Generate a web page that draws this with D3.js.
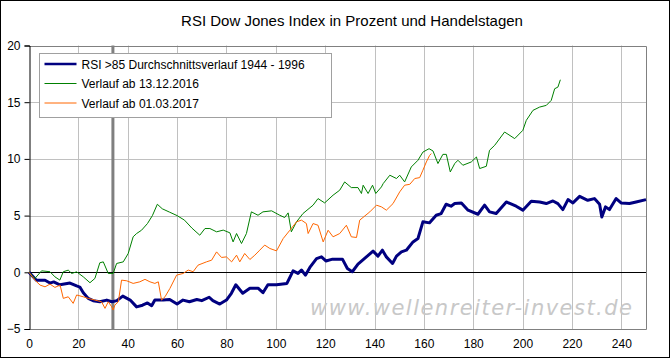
<!DOCTYPE html>
<html>
<head>
<meta charset="utf-8">
<script src="https://cdn.jsdelivr.net/npm/d3@7"></script>
<style>
  html, body { margin: 0; padding: 0; background: #fff; }
  svg { display: block; }
</style>
</head>
<body>
<div id="chart"></div>
<script>
const width = 671
const height = 363

const title = 'RSI Dow Jones Index in Prozent und Handelstagen'
const xTicks = d3.range(0, 241, 20)
const yTicks = [-5, 0, 5, 10, 15, 20]
const markerDay = 34
const watermark = 'www.wellenreiter-invest.de'

// RSI >85 Durchschnittsverlauf 1944 - 1996
const avgDays = [0, 3, 6.5, 8.5, 10, 12.5, 16.6, 19.3, 20.6, 22, 24, 26, 28.7, 31.5, 33.6, 35.6, 36.8, 38, 41, 43.6, 46, 48, 49.7, 51, 54.4, 57, 60, 62.4, 65, 68, 70, 73, 74.5, 77.3, 80, 82, 83.8, 86.6, 89.5, 92.8, 94.8, 96.8, 100.3, 104.5, 107, 109, 110.4, 112, 113.8, 116.5, 118.5, 120.3, 123, 127, 129, 131, 133.3, 136, 139.4, 141.4, 143.2, 144.8, 147.3, 148.9, 150.9, 152.9, 155.6, 157.6, 159.6, 162.3, 165, 167, 169, 171, 172.5, 175.2, 177.9, 181.9, 184.6, 186.6, 189.3, 193.4, 197.4, 200.1, 203.5, 206.9, 209.6, 212.3, 214.3, 216.3, 218.4, 220.4, 223.1, 226.4, 229.1, 231.2, 232.1, 233.6, 235.2, 237.9, 239.9, 243.3, 246, 250]
const avgValues = [0, -0.7, -0.7, -0.95, -0.85, -1.1, -0.95, -1.2, -1.3, -1.8, -2.3, -2.5, -2.6, -2.45, -2.6, -2.5, -2.3, -2.1, -2.45, -3.05, -2.9, -2.7, -2.95, -2.45, -2.45, -2.4, -2.8, -2.45, -2.6, -2.4, -2.5, -2.2, -2.5, -2.8, -2.45, -1.85, -1.1, -1.85, -1.4, -1.4, -1.8, -1.1, -1.1, -0.98, 0.13, -0.1, 0.2, -0.25, 0.43, 1.2, 1.36, 1.0, 1.16, 1.16, 0.34, 0.05, 0.72, 1.22, 1.87, 1.43, 1.95, 1.36, 0.78, 1.43, 1.8, 1.95, 2.68, 2.98, 4.45, 4.36, 5.03, 5.18, 6.0, 5.83, 6.06, 6.12, 5.48, 5.12, 5.92, 5.33, 5.18, 6.2, 5.83, 5.48, 6.27, 6.2, 6.06, 6.29, 6.06, 5.53, 6.41, 6.12, 6.7, 6.35, 6.5, 6.0, 4.88, 5.77, 5.53, 6.5, 6.12, 6.06, 6.2, 6.41]

// Verlauf ab 13.12.2016
const decDays = [0, 2.4, 5.1, 8.5, 10.5, 12.5, 13.9, 15.9, 17.3, 19.3, 22, 24.7, 26.7, 28.7, 30.1, 32.1, 34.1, 35.5, 38.2, 40.2, 42.2, 43.6, 45.6, 48, 50, 52, 54, 57, 60, 63, 66, 69.2, 71.3, 73.3, 76, 78.7, 81.4, 82.7, 84.1, 86.1, 88.1, 90.1, 92.8, 94.8, 98.3, 101.6, 103.6, 105, 106.3, 108.4, 111, 115.1, 117.1, 119.8, 123.2, 125.9, 127.9, 130.6, 133.3, 134.7, 135.4, 137.4, 139.2, 140.5, 142.8, 143.5, 146.2, 148.9, 150.2, 152.2, 154.9, 157.6, 159.6, 162.1, 163.7, 165.7, 167.7, 169.1, 170.7, 172.5, 173.8, 175.8, 179.2, 181.3, 182.6, 185.3, 186.6, 188.7, 192.7, 196.8, 200.1, 201.5, 204.2, 206.9, 209.6, 211.6, 213, 214.3, 215.3]
const decValues = [0, -0.54, 0.13, 0.05, -0.4, -0.69, 0.05, 0.19, -0.1, 0.04, -0.4, -0.92, -0.54, 0.84, 0.92, -0.1, -0.1, 0.78, 0.92, 1.66, 3.13, 3.42, 3.71, 4.3, 5.0, 6.0, 5.6, 5.3, 5.0, 4.6, 3.9, 3.27, 3.86, 3.86, 3.57, 3.72, 3.48, 2.68, 3.42, 2.54, 3.42, 5.33, 5.03, 5.33, 5.42, 5.03, 4.83, 5.24, 3.57, 4.45, 5.18, 5.92, 6.5, 6.12, 6.8, 7.24, 7.97, 7.47, 7.47, 6.95, 7.68, 6.95, 7.68, 6.95, 7.53, 7.82, 8.56, 8.27, 8.56, 7.97, 9.29, 9.88, 10.6, 10.9, 10.7, 9.59, 10.4, 10.4, 8.85, 9.59, 9.88, 9.44, 9.73, 10.17, 9.15, 9.35, 10.76, 11.2, 12.37, 11.79, 12.52, 13.4, 14.28, 14.57, 14.72, 15.16, 16.19, 16.33, 16.98]

// Verlauf ab 01.03.2017
const marDays = [0, 2.4, 4.5, 6.5, 8.5, 10.5, 12.6, 13.9, 15.9, 17.9, 19.3, 22, 24, 26.7, 29.4, 30.8, 32.1, 33.5, 34.1, 34.8, 36.2, 37.5, 39.6, 42.2, 44.9, 47, 49, 51, 52.4, 53.7, 55.1, 57.1, 59.8, 62.5, 64.5, 66.5, 68.5, 71.9, 74, 76, 78, 80, 82.1, 84.1, 85.4, 87.4, 89.5, 91.5, 93.5, 95.5, 97.6, 100.3, 103, 105.7, 108.4, 110.4, 112.4, 113.1, 115.1, 117.1, 119.2, 121.2, 123.2, 125.9, 128.6, 130.6, 132.7, 134, 138.1, 140.8, 142.8, 144.8, 147.5, 150.2, 152.2, 154.3, 156.3, 158.3, 159.6, 161, 162.3, 163]
const marValues = [0, -0.69, -1.13, -1.28, -1.04, -1.33, -1.13, -2.3, -2.16, -2.74, -2.0, -2.16, -2.3, -2.45, -2.6, -3.18, -2.6, -3.04, -3.33, -2.89, -2.6, -0.69, -0.75, -0.98, -0.84, -0.62, -0.84, -0.98, -0.84, -2.45, -2.16, -1.42, -0.25, -0.1, 0.2, 0.05, 0.63, 0.92, 1.07, 1.8, 1.31, 1.36, 0.92, 1.51, 0.92, 1.66, 1.13, 1.51, 1.95, 2.4, 2.1, 1.89, 2.98, 3.71, 4.45, 4.6, 4.3, 3.42, 4.3, 4.15, 2.68, 3.71, 3.13, 3.42, 4.15, 3.13, 3.07, 4.6, 5.33, 5.92, 5.77, 5.48, 6.06, 7.09, 7.68, 7.76, 8.27, 8.35, 9.0, 9.73, 10.3, 10.47]

const seriesNames = ['RSI >85 Durchschnittsverlauf 1944 - 1996', 'Verlauf ab 13.12.2016', 'Verlauf ab 01.03.2017']
const seriesColors = ['#000080', '#008000', '#ff6600']
const seriesWidths = [3, 1, 1]

const series = [
  {name: seriesNames[0], days: avgDays, values: avgValues},
  {name: seriesNames[1], days: decDays, values: decValues},
  {name: seriesNames[2], days: marDays, values: marValues}
].map((s, i) => Object.assign(s, {
  color: seriesColors[i],
  width: seriesWidths[i],
  points: s.days.map((d, j) => [d, s.values[j]])
}))

const plot = {left: 29, right: 646, top: 45.5, bottom: 329}
const font = '"Liberation Sans", Arial, sans-serif'

const x = d3.scaleLinear().domain([0, 250]).range([plot.left, plot.right])
const y = d3.scaleLinear().domain([-5, 20]).range([plot.bottom, plot.top])

const svg = d3.select('#chart')
  .append('svg')
  .attr('width', width)
  .attr('height', height)
  .style('font-family', font)

// outer frame
svg.append('rect')
  .attr('x', 0.5).attr('y', 0.5)
  .attr('width', 669).attr('height', 357)
  .attr('fill', '#fff')
  .attr('stroke', '#000')

svg.append('text')
  .attr('x', 352)
  .attr('y', 26)
  .attr('text-anchor', 'middle')
  .attr('font-size', 15)
  .attr('fill', '#000')
  .text(title)

// grid
svg.append('g')
  .selectAll('line')
  .data(xTicks.filter(d => d > 0))
  .join('line')
  .attr('x1', d => Math.round(x(d)) + 0.5)
  .attr('x2', d => Math.round(x(d)) + 0.5)
  .attr('y1', plot.top)
  .attr('y2', plot.bottom)
  .attr('stroke', '#c0c0c0')

svg.append('g')
  .selectAll('line')
  .data(yTicks.filter(d => d !== 0 && d !== -5 && d !== 20))
  .join('line')
  .attr('x1', plot.left)
  .attr('x2', plot.right)
  .attr('y1', d => Math.round(y(d)) + 0.5)
  .attr('y2', d => Math.round(y(d)) + 0.5)
  .attr('stroke', '#c0c0c0')

// plot border (top / right / bottom)
svg.append('path')
  .attr('d', `M${plot.left},${Math.round(plot.top) + 0.5}H${plot.right + 0.5}V${plot.bottom + 0.5}H${plot.left}`)
  .attr('fill', 'none')
  .attr('stroke', '#808080')

// vertical marker at day 34
svg.append('line')
  .attr('x1', x(markerDay))
  .attr('x2', x(markerDay))
  .attr('y1', y(20))
  .attr('y2', y(-5))
  .attr('stroke', '#808080')
  .attr('stroke-width', 3)

// watermark
svg.append('text')
  .attr('x', 310)
  .attr('y', 315)
  .attr('font-family', '"DejaVu Sans", Verdana, sans-serif')
  .attr('font-style', 'italic')
  .attr('font-size', 21)
  .attr('textLength', 322)
  .attr('lengthAdjust', 'spacing')
  .attr('fill', '#c8c8c8')
  .text(watermark)

// y axis
const yAxis = svg.append('g')
  .attr('transform', `translate(${plot.left + 0.5},0)`)
  .call(d3.axisLeft(y).tickValues(yTicks).tickSize(5).tickPadding(4).tickFormat(d3.format('d')))
yAxis.select('.domain').attr('stroke', '#000')
yAxis.selectAll('.tick line').attr('stroke', '#000')
yAxis.selectAll('.tick text')
  .attr('font-family', font)
  .attr('font-size', 12)
  .attr('fill', '#000')

// x axis line at zero
svg.append('line')
  .attr('x1', plot.left)
  .attr('x2', plot.right)
  .attr('y1', Math.round(y(0)) + 0.5)
  .attr('y2', Math.round(y(0)) + 0.5)
  .attr('stroke', '#000')

// x tick labels at the bottom
const xAxis = svg.append('g')
  .attr('transform', `translate(0,${plot.bottom})`)
  .call(d3.axisBottom(x).tickValues(xTicks).tickSize(0).tickPadding(10).tickFormat(d3.format('d')))
xAxis.select('.domain').remove()
xAxis.selectAll('.tick text')
  .attr('font-family', font)
  .attr('font-size', 12)
  .attr('fill', '#000')

// series
const line = d3.line().x(d => x(d[0])).y(d => y(d[1]))

svg.append('g')
  .selectAll('path')
  .data(series)
  .join('path')
  .attr('d', d => line(d.points))
  .attr('fill', 'none')
  .attr('stroke', d => d.color)
  .attr('stroke-width', d => d.width)
  .attr('stroke-linejoin', 'round')

// legend
const legend = svg.append('g').attr('transform', 'translate(39.5,53.5)')
legend.append('rect')
  .attr('width', 292)
  .attr('height', 64)
  .attr('fill', '#fff')
  .attr('stroke', '#a0a0a0')

const rows = legend.selectAll('g.row')
  .data(series)
  .join('g')
  .attr('class', 'row')
  .attr('transform', (d, i) => `translate(0,${10.5 + i * 19.5})`)

rows.append('line')
  .attr('x1', 5)
  .attr('x2', 37)
  .attr('stroke', d => d.color)
  .attr('stroke-width', d => d.width === 3 ? 2.5 : 1)

rows.append('text')
  .attr('x', 42)
  .attr('y', 4.5)
  .attr('font-size', 12)
  .attr('fill', '#000')
  .text(d => d.name)
</script>
</body>
</html>
